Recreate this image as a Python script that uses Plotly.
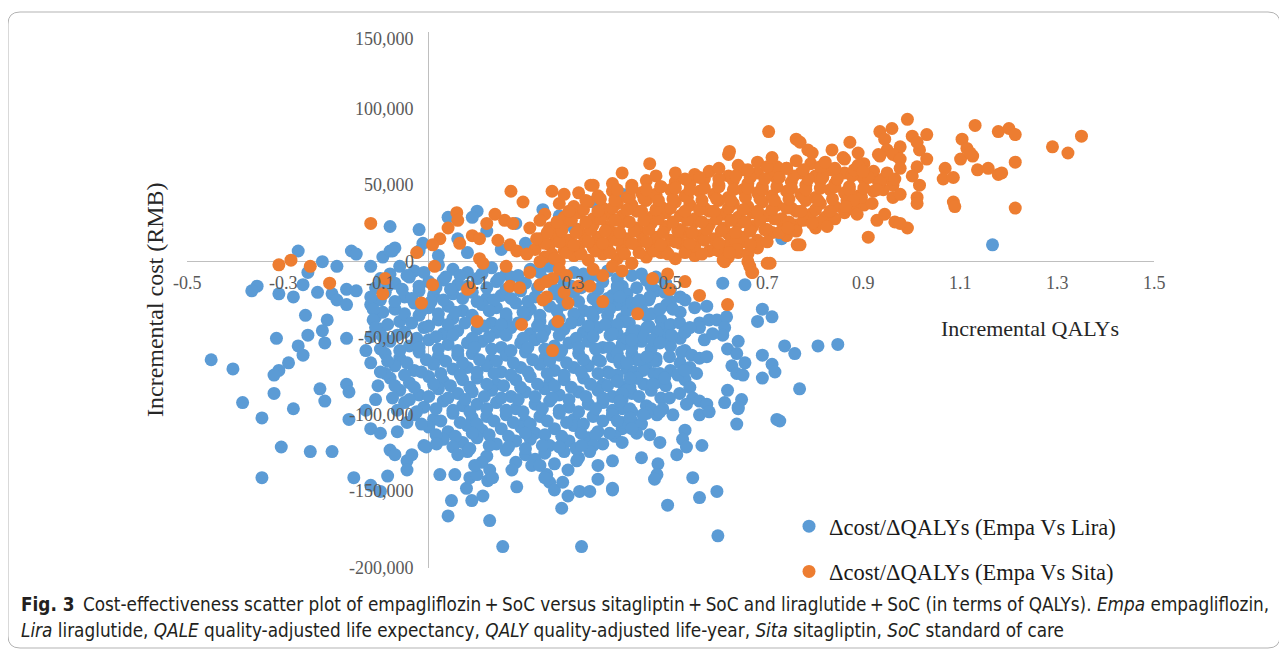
import plotly.graph_objs as go

##################
#   CHART DATA   #
##################

# every point is (incremental QALYs, incremental cost in thousand RMB),
# read off the published scatter plot

# Empa vs Lira - dense central cloud, row by row
lira_core = [
    (-0.06, -3), (-0.03, -6), (0.02, -2), (0.05, -5), (0.08, -7), (0.13, -4), (0.16, -8), (0.21, -5), (0.25, -3), (0.30, -7), (0.37, -6), (0.42, -9),
    (-0.10, -11), (-0.07, -14), (-0.04, -10), (0.00, -13), (0.03, -12), (0.06, -15), (0.10, -11), (0.14, -13), (0.17, -10), (0.20, -14), (0.24, -12), (0.28, -15), (0.33, -11), (0.36, -13), (0.40, -16), (0.45, -12), (0.49, -14),
    (-0.09, -20), (-0.05, -23), (-0.02, -19), (0.01, -22), (0.05, -21), (0.09, -20), (0.12, -24), (0.15, -22), (0.19, -19), (0.22, -23), (0.26, -21), (0.30, -20), (0.34, -24), (0.38, -22), (0.41, -21), (0.47, -19), (0.52, -23),
    (-0.12, -28), (-0.07, -31), (-0.03, -27), (0.00, -30), (0.04, -29), (0.07, -32), (0.11, -28), (0.14, -30), (0.18, -27), (0.21, -31), (0.25, -29), (0.28, -28), (0.32, -32), (0.35, -30), (0.39, -28), (0.44, -31), (0.50, -29), (0.55, -30),
    (-0.11, -36), (-0.06, -39), (-0.02, -35), (0.02, -38), (0.05, -37), (0.09, -36), (0.13, -40), (0.16, -37), (0.20, -35), (0.23, -39), (0.27, -37), (0.31, -38), (0.34, -36), (0.37, -40), (0.40, -37), (0.45, -35), (0.48, -38),
    (-0.10, -44), (-0.05, -46), (-0.01, -43), (0.03, -47), (0.06, -45), (0.10, -44), (0.14, -46), (0.17, -43), (0.21, -47), (0.24, -45), (0.28, -44), (0.32, -46), (0.35, -43), (0.39, -47), (0.43, -45), (0.48, -44), (0.53, -46),
    (-0.08, -52), (-0.04, -55), (0.00, -51), (0.04, -54), (0.08, -53), (0.11, -52), (0.15, -56), (0.19, -53), (0.22, -51), (0.26, -55), (0.29, -53), (0.33, -52), (0.36, -56), (0.40, -54), (0.44, -52), (0.50, -55),
    (-0.09, -60), (-0.06, -63), (-0.02, -59), (0.02, -62), (0.06, -61), (0.09, -60), (0.13, -64), (0.16, -61), (0.20, -59), (0.24, -63), (0.27, -61), (0.31, -60), (0.35, -64), (0.38, -62), (0.42, -60), (0.47, -63),
    (-0.07, -68), (-0.03, -71), (0.01, -67), (0.05, -70), (0.08, -69), (0.12, -68), (0.15, -72), (0.19, -69), (0.23, -67), (0.26, -71), (0.30, -69), (0.33, -68), (0.37, -72), (0.41, -70), (0.45, -68), (0.50, -71),
    (-0.08, -76), (-0.04, -79), (0.00, -75), (0.03, -78), (0.07, -77), (0.10, -76), (0.14, -80), (0.18, -77), (0.21, -75), (0.25, -79), (0.28, -77), (0.32, -76), (0.36, -80), (0.39, -78), (0.43, -76), (0.47, -79), (0.53, -77),
    (-0.06, -84), (-0.02, -87), (0.02, -83), (0.06, -86), (0.09, -85), (0.13, -84), (0.17, -88), (0.20, -85), (0.24, -83), (0.27, -87), (0.31, -85), (0.35, -84), (0.38, -88), (0.42, -86), (0.46, -84),
    (-0.05, -92), (-0.01, -95), (0.03, -91), (0.07, -94), (0.10, -93), (0.14, -92), (0.18, -96), (0.22, -93), (0.25, -91), (0.29, -95), (0.33, -93), (0.36, -92), (0.40, -96), (0.45, -94),
    (-0.03, -100), (0.01, -103), (0.05, -99), (0.09, -102), (0.12, -101), (0.16, -100), (0.20, -104), (0.23, -101), (0.27, -99), (0.30, -103), (0.34, -101), (0.38, -100), (0.42, -104),
    (0.00, -108), (0.04, -111), (0.08, -107), (0.11, -110), (0.15, -109), (0.19, -108), (0.22, -112), (0.26, -109), (0.30, -107), (0.35, -111), (0.40, -109),
    (0.03, -116), (0.07, -118), (0.10, -115), (0.14, -119), (0.18, -117), (0.21, -116), (0.25, -120), (0.29, -117), (0.33, -115), (0.36, -119),
    (0.08, -124), (0.12, -127), (0.16, -123), (0.20, -126), (0.24, -125), (0.28, -124), (0.31, -128),
    (0.18, -131), (0.22, -129), (0.26, -132), (0.38, -130), (0.44, -128),
]

# Empa vs Lira - points packed between the rows above
lira_core_fill = [
    (-0.08, -8), (-0.045, -9), (-0.01, -7), (0.035, -10), (0.065, -9), (0.11, -8), (0.145, -11), (0.185, -9), (0.23, -7), (0.27, -10), (0.32, -8), (0.35, -9), (0.39, -11), (0.44, -8), (0.47, -10),
    (-0.11, -17), (-0.085, -16), (-0.055, -18), (-0.02, -16), (0.015, -17), (0.045, -18), (0.08, -16), (0.12, -17), (0.16, -18), (0.19, -16), (0.225, -17), (0.26, -18), (0.295, -16), (0.315, -17), (0.35, -18), (0.39, -16), (0.43, -17), (0.46, -16), (0.50, -18),
    (-0.10, -25), (-0.07, -26), (-0.035, -24), (0.005, -26), (0.03, -25), (0.07, -24), (0.10, -26), (0.135, -25), (0.17, -24), (0.205, -26), (0.24, -25), (0.275, -24), (0.31, -26), (0.345, -25), (0.37, -24), (0.41, -26), (0.455, -25), (0.50, -26), (0.53, -25),
    (-0.095, -33), (-0.05, -34), (-0.015, -32), (0.02, -34), (0.055, -33), (0.09, -35), (0.125, -32), (0.16, -34), (0.195, -33), (0.23, -35), (0.265, -32), (0.30, -34), (0.335, -33), (0.37, -35), (0.41, -32), (0.46, -34), (0.52, -33),
    (-0.085, -41), (-0.035, -40), (0.00, -42), (0.04, -41), (0.075, -40), (0.115, -42), (0.15, -41), (0.185, -40), (0.225, -42), (0.26, -41), (0.295, -40), (0.33, -42), (0.365, -41), (0.415, -40), (0.455, -42), (0.50, -41), (0.56, -40),
    (-0.095, -49), (-0.065, -48), (-0.025, -50), (0.015, -49), (0.05, -48), (0.09, -50), (0.125, -49), (0.16, -48), (0.195, -50), (0.235, -49), (0.27, -48), (0.305, -50), (0.34, -49), (0.375, -48), (0.41, -50), (0.445, -49), (0.49, -48), (0.52, -50),
    (-0.10, -57), (-0.06, -58), (-0.02, -56), (0.02, -57), (0.06, -58), (0.095, -56), (0.13, -57), (0.17, -58), (0.205, -56), (0.24, -57), (0.275, -58), (0.31, -56), (0.345, -57), (0.38, -58), (0.42, -56), (0.46, -57), (0.53, -58),
    (-0.085, -65), (-0.045, -66), (-0.005, -64), (0.035, -65), (0.07, -66), (0.105, -64), (0.14, -65), (0.175, -66), (0.215, -64), (0.25, -65), (0.285, -66), (0.32, -64), (0.355, -65), (0.395, -66), (0.43, -64), (0.47, -65), (0.52, -66),
    (-0.09, -73), (-0.05, -74), (-0.015, -72), (0.025, -73), (0.065, -74), (0.10, -72), (0.135, -73), (0.17, -74), (0.205, -72), (0.245, -73), (0.28, -74), (0.315, -72), (0.35, -73), (0.39, -74), (0.425, -72), (0.465, -73), (0.515, -74),
    (-0.07, -81), (-0.03, -82), (0.01, -80), (0.045, -81), (0.085, -82), (0.12, -80), (0.155, -81), (0.19, -82), (0.225, -80), (0.26, -81), (0.295, -82), (0.335, -80), (0.37, -81), (0.405, -82), (0.445, -80), (0.49, -81),
    (-0.075, -89), (-0.04, -90), (0.00, -88), (0.04, -89), (0.075, -90), (0.115, -88), (0.15, -89), (0.185, -90), (0.22, -88), (0.255, -89), (0.29, -90), (0.325, -88), (0.36, -89), (0.40, -90), (0.435, -88), (0.48, -89),
    (-0.065, -97), (-0.025, -98), (0.015, -96), (0.05, -97), (0.085, -98), (0.12, -96), (0.16, -97), (0.195, -98), (0.235, -96), (0.27, -97), (0.31, -98), (0.345, -96), (0.38, -97), (0.42, -98), (0.46, -96),
    (-0.045, -105), (-0.015, -106), (0.025, -104), (0.065, -105), (0.10, -106), (0.135, -104), (0.175, -105), (0.21, -106), (0.245, -104), (0.285, -105), (0.32, -106), (0.36, -104), (0.40, -105), (0.44, -106),
    (0.015, -113), (0.055, -114), (0.09, -112), (0.125, -113), (0.165, -114), (0.20, -112), (0.24, -113), (0.275, -114), (0.315, -112), (0.345, -113), (0.385, -114),
    (0.05, -121), (0.085, -122), (0.125, -120), (0.165, -121), (0.20, -122), (0.235, -120), (0.27, -121), (0.305, -122), (0.34, -120),
]

# Empa vs Lira - scattered points left of the y axis
lira_left = [
    (-0.27, 7), (-0.16, 7), (-0.15, 5), (-0.22, 0), (-0.19, -3), (-0.12, -3), (-0.095, 3), (-0.08, 7), (-0.07, 9), (-0.08, 23), (-0.02, 21),
    (-0.25, -7), (-0.26, -15), (-0.355, -16), (-0.366, -19), (-0.31, -21), (-0.28, -23), (-0.23, -20), (-0.20, -21), (-0.19, -25), (-0.17, -28),
    (-0.17, -18), (-0.15, -19), (-0.12, -23), (-0.115, -31), (-0.115, -38), (-0.11, -43), (-0.255, -35), (-0.21, -38), (-0.22, -45), (-0.215, -53),
    (-0.25, -48), (-0.315, -50), (-0.27, -55), (-0.17, -50), (-0.26, -61), (-0.29, -66), (-0.31, -71), (-0.32, -74), (-0.45, -64), (-0.405, -70),
    (-0.385, -92), (-0.32, -86), (-0.28, -96), (-0.225, -83), (-0.215, -91), (-0.17, -80), (-0.165, -85), (-0.105, -81), (-0.345, -102),
    (-0.165, -103), (-0.12, -109), (-0.10, -112), (-0.065, -111), (-0.305, -121), (-0.245, -124), (-0.20, -124), (-0.08, -123), (-0.07, -126),
    (-0.045, -130), (-0.035, -126), (-0.045, -136), (-0.345, -141), (-0.155, -141), (-0.12, -146), (-0.10, -150), (-0.085, -140), (-0.01, -120),
    (-0.13, -58), (-0.12, -66), (-0.11, -90), (-0.13, -97), (-0.10, -72), (-0.12, -49),
]

# Empa vs Lira - points above the x axis (partly hidden by Sita)
lira_upper = [
    (0.04, 29), (0.10, 33), (0.09, 29), (0.236, 34), (0.34, 39), (0.40, 44), (-0.075, 7), (-0.012, 12), (-0.02, 7),
    (0.06, 15), (0.12, 20), (0.20, 12), (0.15, 8), (0.30, 22), (0.35, 14), (0.02, 4), (0.08, 6), (0.27, 30), (0.18, 25),
    (0.73, 15), (1.166, 11), (0.608, -14), (0.654, -15),
]

# Empa vs Lira - right and lower fringe of the cloud
lira_right = [
    (0.69, -31), (0.71, -36), (0.68, -39), (0.736, -55), (0.757, -60), (0.805, -55), (0.846, -54), (0.69, -61), (0.71, -67), (0.716, -72),
    (0.69, -76), (0.64, -52), (0.618, -57), (0.637, -60), (0.654, -66), (0.627, -68), (0.637, -73), (0.65, -74), (0.767, -83), (0.618, -84),
    (0.612, -92), (0.647, -90), (0.64, -96), (0.72, -103), (0.575, -29), (0.58, -38), (0.596, -38), (0.616, -36), (0.612, -43), (0.608, -48),
    (0.56, -43), (0.57, -51), (0.587, -47), (0.457, -23), (0.488, -20), (0.492, -28), (0.478, -31), (0.505, -31), (0.519, -40), (0.53, -46),
    (0.54, -43), (0.502, -48), (0.472, -46), (0.451, -43), (0.463, -51), (0.478, -53), (0.405, -39), (0.39, -41), (0.42, -46), (0.42, -51),
    (0.38, -47), (0.374, -31), (0.39, -17), (0.395, -23), (0.42, -27), (0.43, -29), (0.436, -25), (0.498, -62), (0.523, -59), (0.544, -61),
    (0.56, -63), (0.575, -62), (0.54, -69), (0.554, -73), (0.53, -71), (0.463, -64), (0.478, -73), (0.488, -76), (0.463, -80), (0.443, -71),
    (0.43, -76), (0.416, -82), (0.40, -86), (0.54, -82), (0.546, -89), (0.56, -91), (0.575, -93), (0.533, -93), (0.519, -86), (0.498, -89),
    (0.484, -96), (0.472, -100), (0.451, -99), (0.416, -96), (0.395, -91), (0.38, -100), (0.374, -56), (0.39, -60), (0.395, -64), (0.41, -66),
    (0.374, -73), (0.39, -78), (0.416, -76), (0.436, -64), (0.451, -62), (0.64, -95), (0.637, -106), (0.726, -104), (0.56, -100), (0.58, -98),
    (0.53, -110), (0.525, -116), (0.533, -121), (0.513, -126), (0.565, -120), (0.474, -132), (0.472, -139), (0.467, -142), (0.546, -141),
    (0.56, -154), (0.596, -150), (0.494, -159), (0.38, -149), (0.598, -179), (0.478, -118), (0.457, -113), (0.43, -112), (0.40, -118),
    (0.374, -112), (0.443, -100), (0.478, -98), (0.505, -100), (0.416, -102), (0.39, -104), (0.42, -109),
]

# Empa vs Lira - bottom tail below -115,000
lira_lower = [
    (-0.005, -121), (0.016, -119), (0.023, -139), (0.047, -156), (0.04, -166), (0.06, -126), (0.054, -139), (0.078, -148), (0.089, -156),
    (0.112, -153), (0.126, -169), (0.085, -141), (0.10, -139), (0.11, -131), (0.095, -133), (0.126, -136), (0.122, -143), (0.132, -141),
    (0.153, -186), (0.172, -136), (0.182, -147), (0.213, -133), (0.23, -133), (0.244, -139), (0.25, -144), (0.26, -149), (0.24, -141),
    (0.275, -161), (0.277, -144), (0.288, -136), (0.306, -130), (0.288, -153), (0.312, -150), (0.333, -150), (0.35, -142), (0.35, -133),
    (0.333, -124), (0.316, -120), (0.38, -148), (0.316, -186),
]

# Empa vs Sita - dense band, row by row
sita_core = [
    (0.24, 3), (0.27, 0), (0.30, 4), (0.33, 1), (0.36, 5), (0.39, 2), (0.42, -1), (0.45, 3), (0.48, 6), (0.51, 2), (0.55, 4), (0.58, 7), (0.62, 3),
    (0.22, 8), (0.25, 11), (0.28, 7), (0.31, 10), (0.34, 9), (0.37, 12), (0.40, 8), (0.43, 11), (0.46, 9), (0.49, 7), (0.52, 12), (0.55, 10), (0.59, 8), (0.62, 11), (0.65, 13), (0.68, 9),
    (0.23, 15), (0.26, 18), (0.29, 14), (0.32, 17), (0.35, 16), (0.38, 19), (0.41, 15), (0.44, 18), (0.47, 16), (0.50, 14), (0.53, 19), (0.56, 17), (0.59, 15), (0.62, 18), (0.65, 16), (0.68, 14), (0.71, 19), (0.74, 17),
    (0.25, 22), (0.28, 25), (0.31, 21), (0.34, 24), (0.37, 23), (0.40, 26), (0.43, 22), (0.46, 25), (0.49, 23), (0.52, 21), (0.55, 26), (0.58, 24), (0.61, 22), (0.64, 25), (0.67, 23), (0.70, 21), (0.73, 26), (0.76, 24), (0.80, 22),
    (0.28, 29), (0.31, 32), (0.34, 28), (0.37, 31), (0.40, 30), (0.43, 33), (0.46, 29), (0.49, 32), (0.52, 30), (0.55, 28), (0.58, 33), (0.61, 31), (0.64, 29), (0.67, 32), (0.70, 30), (0.73, 28), (0.76, 33), (0.79, 31), (0.82, 29), (0.86, 32),
    (0.30, 36), (0.33, 39), (0.36, 35), (0.39, 38), (0.42, 37), (0.45, 40), (0.48, 36), (0.51, 39), (0.54, 37), (0.57, 35), (0.60, 40), (0.63, 38), (0.66, 36), (0.69, 39), (0.72, 37), (0.75, 35), (0.78, 40), (0.81, 38), (0.84, 36), (0.87, 39), (0.90, 37),
    (0.35, 43), (0.38, 46), (0.41, 42), (0.44, 45), (0.47, 44), (0.50, 47), (0.53, 43), (0.56, 46), (0.59, 44), (0.62, 42), (0.65, 47), (0.68, 45), (0.71, 43), (0.74, 46), (0.77, 44), (0.80, 42), (0.83, 47), (0.86, 45), (0.89, 43), (0.92, 46),
    (0.42, 50), (0.45, 53), (0.48, 49), (0.51, 52), (0.54, 51), (0.57, 54), (0.60, 50), (0.63, 53), (0.66, 51), (0.69, 49), (0.72, 54), (0.75, 52), (0.78, 50), (0.81, 53), (0.84, 51), (0.87, 49), (0.90, 54), (0.93, 52), (0.96, 50),
    (0.55, 57), (0.58, 59), (0.62, 56), (0.65, 60), (0.68, 58), (0.71, 57), (0.74, 61), (0.77, 58), (0.80, 56), (0.83, 60), (0.86, 58), (0.89, 57), (0.92, 59),
    (0.64, 63), (0.68, 65), (0.72, 62), (0.76, 66), (0.79, 64), (0.82, 63), (0.86, 67), (0.90, 64),
    (0.47, 56), (0.51, 58), (0.38, 51), (0.31, 45), (0.27, 38), (0.24, 31),
]

# Empa vs Sita - points packed between the rows above
sita_core_fill = [
    (0.255, 5), (0.285, 6), (0.315, 5), (0.345, 7), (0.375, 6), (0.405, 5), (0.435, 6), (0.465, 7), (0.495, 5), (0.53, 6), (0.565, 5), (0.60, 7), (0.64, 6), (0.66, 5),
    (0.24, 12), (0.27, 13), (0.30, 11), (0.33, 13), (0.36, 12), (0.39, 14), (0.42, 12), (0.45, 13), (0.48, 11), (0.51, 13), (0.54, 12), (0.57, 14), (0.60, 12), (0.635, 13), (0.665, 11), (0.70, 13),
    (0.245, 19), (0.275, 20), (0.305, 19), (0.335, 21), (0.365, 20), (0.395, 19), (0.425, 20), (0.455, 21), (0.485, 19), (0.515, 20), (0.545, 19), (0.575, 21), (0.605, 20), (0.635, 19), (0.665, 20), (0.695, 21), (0.725, 19), (0.76, 20),
    (0.265, 26), (0.295, 27), (0.325, 26), (0.355, 28), (0.385, 27), (0.415, 26), (0.445, 27), (0.475, 28), (0.505, 26), (0.535, 27), (0.565, 26), (0.595, 28), (0.625, 27), (0.655, 26), (0.685, 27), (0.715, 28), (0.745, 26), (0.775, 27), (0.81, 26), (0.84, 28),
    (0.29, 33), (0.32, 34), (0.35, 33), (0.38, 35), (0.41, 34), (0.44, 33), (0.47, 34), (0.50, 35), (0.53, 33), (0.56, 34), (0.59, 33), (0.62, 35), (0.65, 34), (0.68, 33), (0.71, 34), (0.74, 35), (0.77, 33), (0.80, 34), (0.83, 33), (0.86, 35), (0.88, 34),
    (0.325, 40), (0.355, 41), (0.385, 40), (0.415, 42), (0.445, 41), (0.475, 40), (0.505, 41), (0.535, 42), (0.565, 40), (0.595, 41), (0.625, 40), (0.655, 42), (0.685, 41), (0.715, 40), (0.745, 41), (0.775, 42), (0.805, 40), (0.835, 41), (0.865, 40), (0.895, 42),
    (0.39, 47), (0.42, 48), (0.45, 47), (0.48, 49), (0.51, 48), (0.54, 47), (0.57, 48), (0.60, 49), (0.63, 47), (0.66, 48), (0.69, 47), (0.72, 49), (0.75, 48), (0.78, 47), (0.81, 48), (0.84, 49), (0.87, 47), (0.90, 48), (0.94, 47),
    (0.53, 54), (0.56, 55), (0.60, 54), (0.635, 56), (0.665, 55), (0.695, 54), (0.725, 55), (0.755, 56), (0.785, 54), (0.815, 55), (0.845, 54), (0.875, 56), (0.91, 55), (0.94, 54),
    (0.60, 61), (0.66, 60), (0.70, 62), (0.74, 61), (0.775, 60), (0.81, 62), (0.84, 61), (0.88, 60),
]

# Empa vs Sita - sparse points left of the band
sita_left = [
    (-0.12, 25), (-0.31, -2), (-0.285, 1), (-0.245, -3), (-0.205, -14), (-0.09, -11), (-0.095, -21), (-0.025, 6), (-0.015, -27),
    (0.17, 46), (0.195, 39), (0.255, 46), (0.28, 44), (0.335, 50), (0.058, 32), (0.06, 27), (0.04, 22), (0.023, 15), (0.008, 11),
    (0.064, 12), (0.09, 17), (0.105, 15), (0.12, 25), (0.137, 31), (0.157, 27), (0.174, 25), (0.143, 14), (0.168, 11), (0.182, 7),
    (0.203, 5), (0.105, 2), (0.112, -1), (0.16, -3), (0.012, -3), (0.008, -15), (0.085, -17), (0.168, -16), (0.188, -17), (0.23, 0),
    (0.223, 15), (0.209, 22), (0.23, 27), (0.34, 50), (0.40, 58), (0.457, 64),
]

# Empa vs Sita - points below the band
sita_lower = [
    (0.26, 2), (0.27, -5), (0.256, -11), (0.244, -23), (0.285, -9), (0.31, -16), (0.333, -16), (0.209, -7), (0.08, -18), (0.23, -15),
    (0.244, -13), (0.236, -25), (0.28, -20), (0.288, -27), (0.36, -26), (0.10, -39), (0.192, -41), (0.267, -39), (0.256, -58),
    (0.463, -11), (0.494, -8), (0.53, -13), (0.498, -18), (0.56, -22), (0.618, -28), (0.432, -34), (0.668, -7), (0.612, 0), (0.66, 0),
    (0.70, -1), (0.743, 22), (0.762, 11), (0.706, -1), (0.664, -3), (0.67, -7), (0.609, 1), (0.637, 8), (0.622, 6),
    (0.38, -3), (0.40, -6), (0.42, -1), (0.36, -9), (0.34, -5),
]

# Empa vs Sita - upper and right end of the band
sita_right = [
    (0.62, 70), (0.71, 68), (0.703, 85), (0.76, 80), (0.784, 73), (0.622, 72),
    (0.99, 93), (0.933, 85), (0.958, 87), (1.00, 82), (1.03, 83), (1.015, 73), (1.01, 78), (0.975, 75), (0.968, 69), (0.943, 80),
    (0.948, 73), (0.93, 70), (0.871, 78), (0.834, 73), (0.793, 71), (0.888, 71), (1.03, 67), (1.01, 62), (1.00, 56), (1.015, 50),
    (1.01, 42), (1.01, 38), (1.068, 61), (1.064, 54), (1.085, 55), (1.085, 39), (1.088, 36), (1.103, 80), (1.113, 74), (1.10, 67),
    (1.125, 69), (1.12, 71), (1.13, 89), (1.178, 85), (1.20, 87), (1.213, 83), (1.135, 60), (1.157, 61), (1.178, 57), (1.185, 58),
    (1.213, 65), (1.213, 35), (1.29, 75), (1.322, 71), (1.35, 82), (0.768, 78), (0.82, 65), (0.857, 68), (0.888, 63), (0.898, 59),
    (0.933, 69), (0.96, 70), (0.975, 67), (0.948, 58), (0.964, 54), (0.975, 61), (0.933, 52), (0.927, 47), (0.96, 42), (0.975, 44),
    (0.917, 38), (0.927, 27), (0.943, 31), (0.964, 26), (0.99, 22), (0.975, 25), (0.909, 16), (0.886, 31), (0.878, 40), (0.862, 36),
    (0.824, 23), (0.793, 25), (0.768, 11),
]

x_tick_values = [-0.5, -0.3, -0.1, 0.1, 0.3, 0.5, 0.7, 0.9, 1.1, 1.3, 1.5]
x_tick_labels = ["-0.5", "-0.3", "-0.1", "0.1", "0.3", "0.5", "0.7", "0.9", "1.1", "1.3", "1.5"]
y_tick_values = [150000, 100000, 50000, 0, -50000, -100000, -150000, -200000]
y_tick_labels = ["150,000", "100,000", "50,000", "0", "-50,000", "-100,000", "-150,000", "-200,000"]

series_names = ["\u0394cost/\u0394QALYs (Empa Vs Lira)", "\u0394cost/\u0394QALYs (Empa Vs Sita)"]
series_colors = ["#5B9BD5", "#ED7D31"]

caption_lines = [
    "<b>Fig. 3</b>\u2002Cost-effectiveness scatter plot of empagliflozin\u2009+\u2009SoC versus sitagliptin\u2009+\u2009SoC and liraglutide\u2009+\u2009SoC "
    "(in terms of QALYs). <i>Empa</i> empagliflozin,",
    "<i>Lira</i> liraglutide, <i>QALE</i> quality-adjusted life expectancy, <i>QALY</i> quality-adjusted life-year, "
    "<i>Sita</i> sitagliptin, <i>SoC</i> standard of care",
]

#####################
#  LAYOUT HELPERS   #
#####################

# the page body keeps its default 8px margin, so the figure is shrunk by it
PAGE_W, PAGE_H, BODY_MARGIN = 1287, 651, 8
PLOT_LEFT, PLOT_RIGHT, PLOT_TOP, PLOT_BOTTOM = 187, 1154, 32, 568

SERIF = "Liberation Serif, Times New Roman, serif"
CAPTION_FONT = "Liberation Sans Narrow, DejaVu Sans Condensed, Roboto Condensed, Arial Narrow, sans-serif"


def paper_x(px: float) -> float:
    """page pixel column -> paper coordinate"""
    return (px - PLOT_LEFT) / (PLOT_RIGHT - PLOT_LEFT)


def paper_y(py: float) -> float:
    """page pixel row -> paper coordinate"""
    return (PLOT_BOTTOM - py) / (PLOT_BOTTOM - PLOT_TOP)


def split_points(*groups):
    """turns lists of (qaly, cost k RMB) pairs into x / y lists"""
    qaly, cost = [], []
    for group in groups:
        for q, c in group:
            qaly.append(q)
            cost.append(c * 1000)
    return qaly, cost


def rounded_box(x0, y0, x1, y1, r):
    """svg path of a rounded rectangle, in paper coordinates"""
    pts = [
        ("M", x0 + r, y0), ("L", x1 - r, y0), ("Q", x1, y0, x1, y0 + r),
        ("L", x1, y1 - r), ("Q", x1, y1, x1 - r, y1), ("L", x0 + r, y1),
        ("Q", x0, y1, x0, y1 - r), ("L", x0, y0 + r), ("Q", x0, y0, x0 + r, y0),
    ]
    path = ""
    for p in pts:
        if p[0] == "Q":
            path += f"Q {paper_x(p[1])},{paper_y(p[2])} {paper_x(p[3])},{paper_y(p[4])} "
        else:
            path += f"{p[0]} {paper_x(p[1])},{paper_y(p[2])} "
    return path + "Z"


################
#    FIGURE    #
################

fig = go.Figure()

series = [
    split_points(lira_core, lira_core_fill, lira_left, lira_upper, lira_right, lira_lower),
    split_points(sita_core, sita_core_fill, sita_left, sita_lower, sita_right),
]

for i, (qaly, cost) in enumerate(series):
    fig.add_trace(
        go.Scatter(
            x = qaly,
            y = cost,
            mode = "markers",
            name = series_names[i],
            legendgroup = f"g{i}",
            marker = {"size": 13, "color": series_colors[i], "line": {"width": 0}},
            hoverinfo = "skip",
        )
    )

annotations = []

# tick labels sit next to the crossing axes, like in Excel
for v, t in zip(x_tick_values, x_tick_labels):
    annotations.append(dict(
        x = v, y = 0, xref = "x", yref = "y", text = t, showarrow = False,
        xanchor = "center", yanchor = "middle", yshift = -21,
        font = {"family": SERIF, "size": 18, "color": "#595959"},
    ))
for v, t in zip(y_tick_values, y_tick_labels):
    annotations.append(dict(
        x = 0, y = v, xref = "x", yref = "y", text = t, showarrow = False,
        xanchor = "right", yanchor = "middle", xshift = -13,
        yshift = -7 if v == max(y_tick_values) else 0,
        font = {"family": SERIF, "size": 18, "color": "#595959"},
    ))

# axis titles
annotations.append(dict(
    x = paper_x(155), y = paper_y(300), xref = "paper", yref = "paper",
    xanchor = "center", yanchor = "middle",
    text = "Incremental cost (RMB)", textangle = -90, showarrow = False,
    font = {"family": SERIF, "size": 24, "color": "#262626"},
))
annotations.append(dict(
    x = paper_x(1030), y = paper_y(328), xref = "paper", yref = "paper",
    xanchor = "center", yanchor = "middle",
    text = "Incremental QALYs", showarrow = False,
    font = {"family": SERIF, "size": 22, "color": "#262626"},
))

# figure caption
for line, py in zip(caption_lines, [604, 630]):
    annotations.append(dict(
        x = paper_x(19), y = paper_y(py), xref = "paper", yref = "paper",
        xanchor = "left", yanchor = "middle", text = line, showarrow = False,
        font = {"family": CAPTION_FONT, "size": 18.8, "color": "#231F20"},
    ))

fig.update_layout(
    width = PAGE_W - BODY_MARGIN,
    height = PAGE_H - BODY_MARGIN,
    margin = {
        "l": PLOT_LEFT - BODY_MARGIN, "r": PAGE_W - PLOT_RIGHT,
        "t": PLOT_TOP - BODY_MARGIN, "b": PAGE_H - PLOT_BOTTOM, "pad": 0,
    },
    paper_bgcolor = "white",
    plot_bgcolor = "white",
    xaxis = {
        "range": [-0.5, 1.5], "showgrid": False, "showticklabels": False, "ticks": "",
        "zeroline": True, "zerolinecolor": "#BFBFBF", "zerolinewidth": 1, "showline": False,
    },
    yaxis = {
        "range": [-200000, 150000], "showgrid": False, "showticklabels": False, "ticks": "",
        "zeroline": True, "zerolinecolor": "#BFBFBF", "zerolinewidth": 1, "showline": False,
    },
    legend = {
        "x": paper_x(789), "y": paper_y(505), "xanchor": "left", "yanchor": "top",
        "bgcolor": "rgba(0,0,0,0)", "tracegroupgap": 13, "traceorder": "grouped",
        "font": {"family": SERIF, "size": 22.5, "color": "#1A1A1A"},
    },
    annotations = annotations,
    shapes = [
        dict(
            type = "path", xref = "paper", yref = "paper",
            path = rounded_box(8, 12, 1280, 648, 12),
            line = {"color": "#B3B3B3", "width": 1},
        )
    ],
)

fig.write_html("out.html")
